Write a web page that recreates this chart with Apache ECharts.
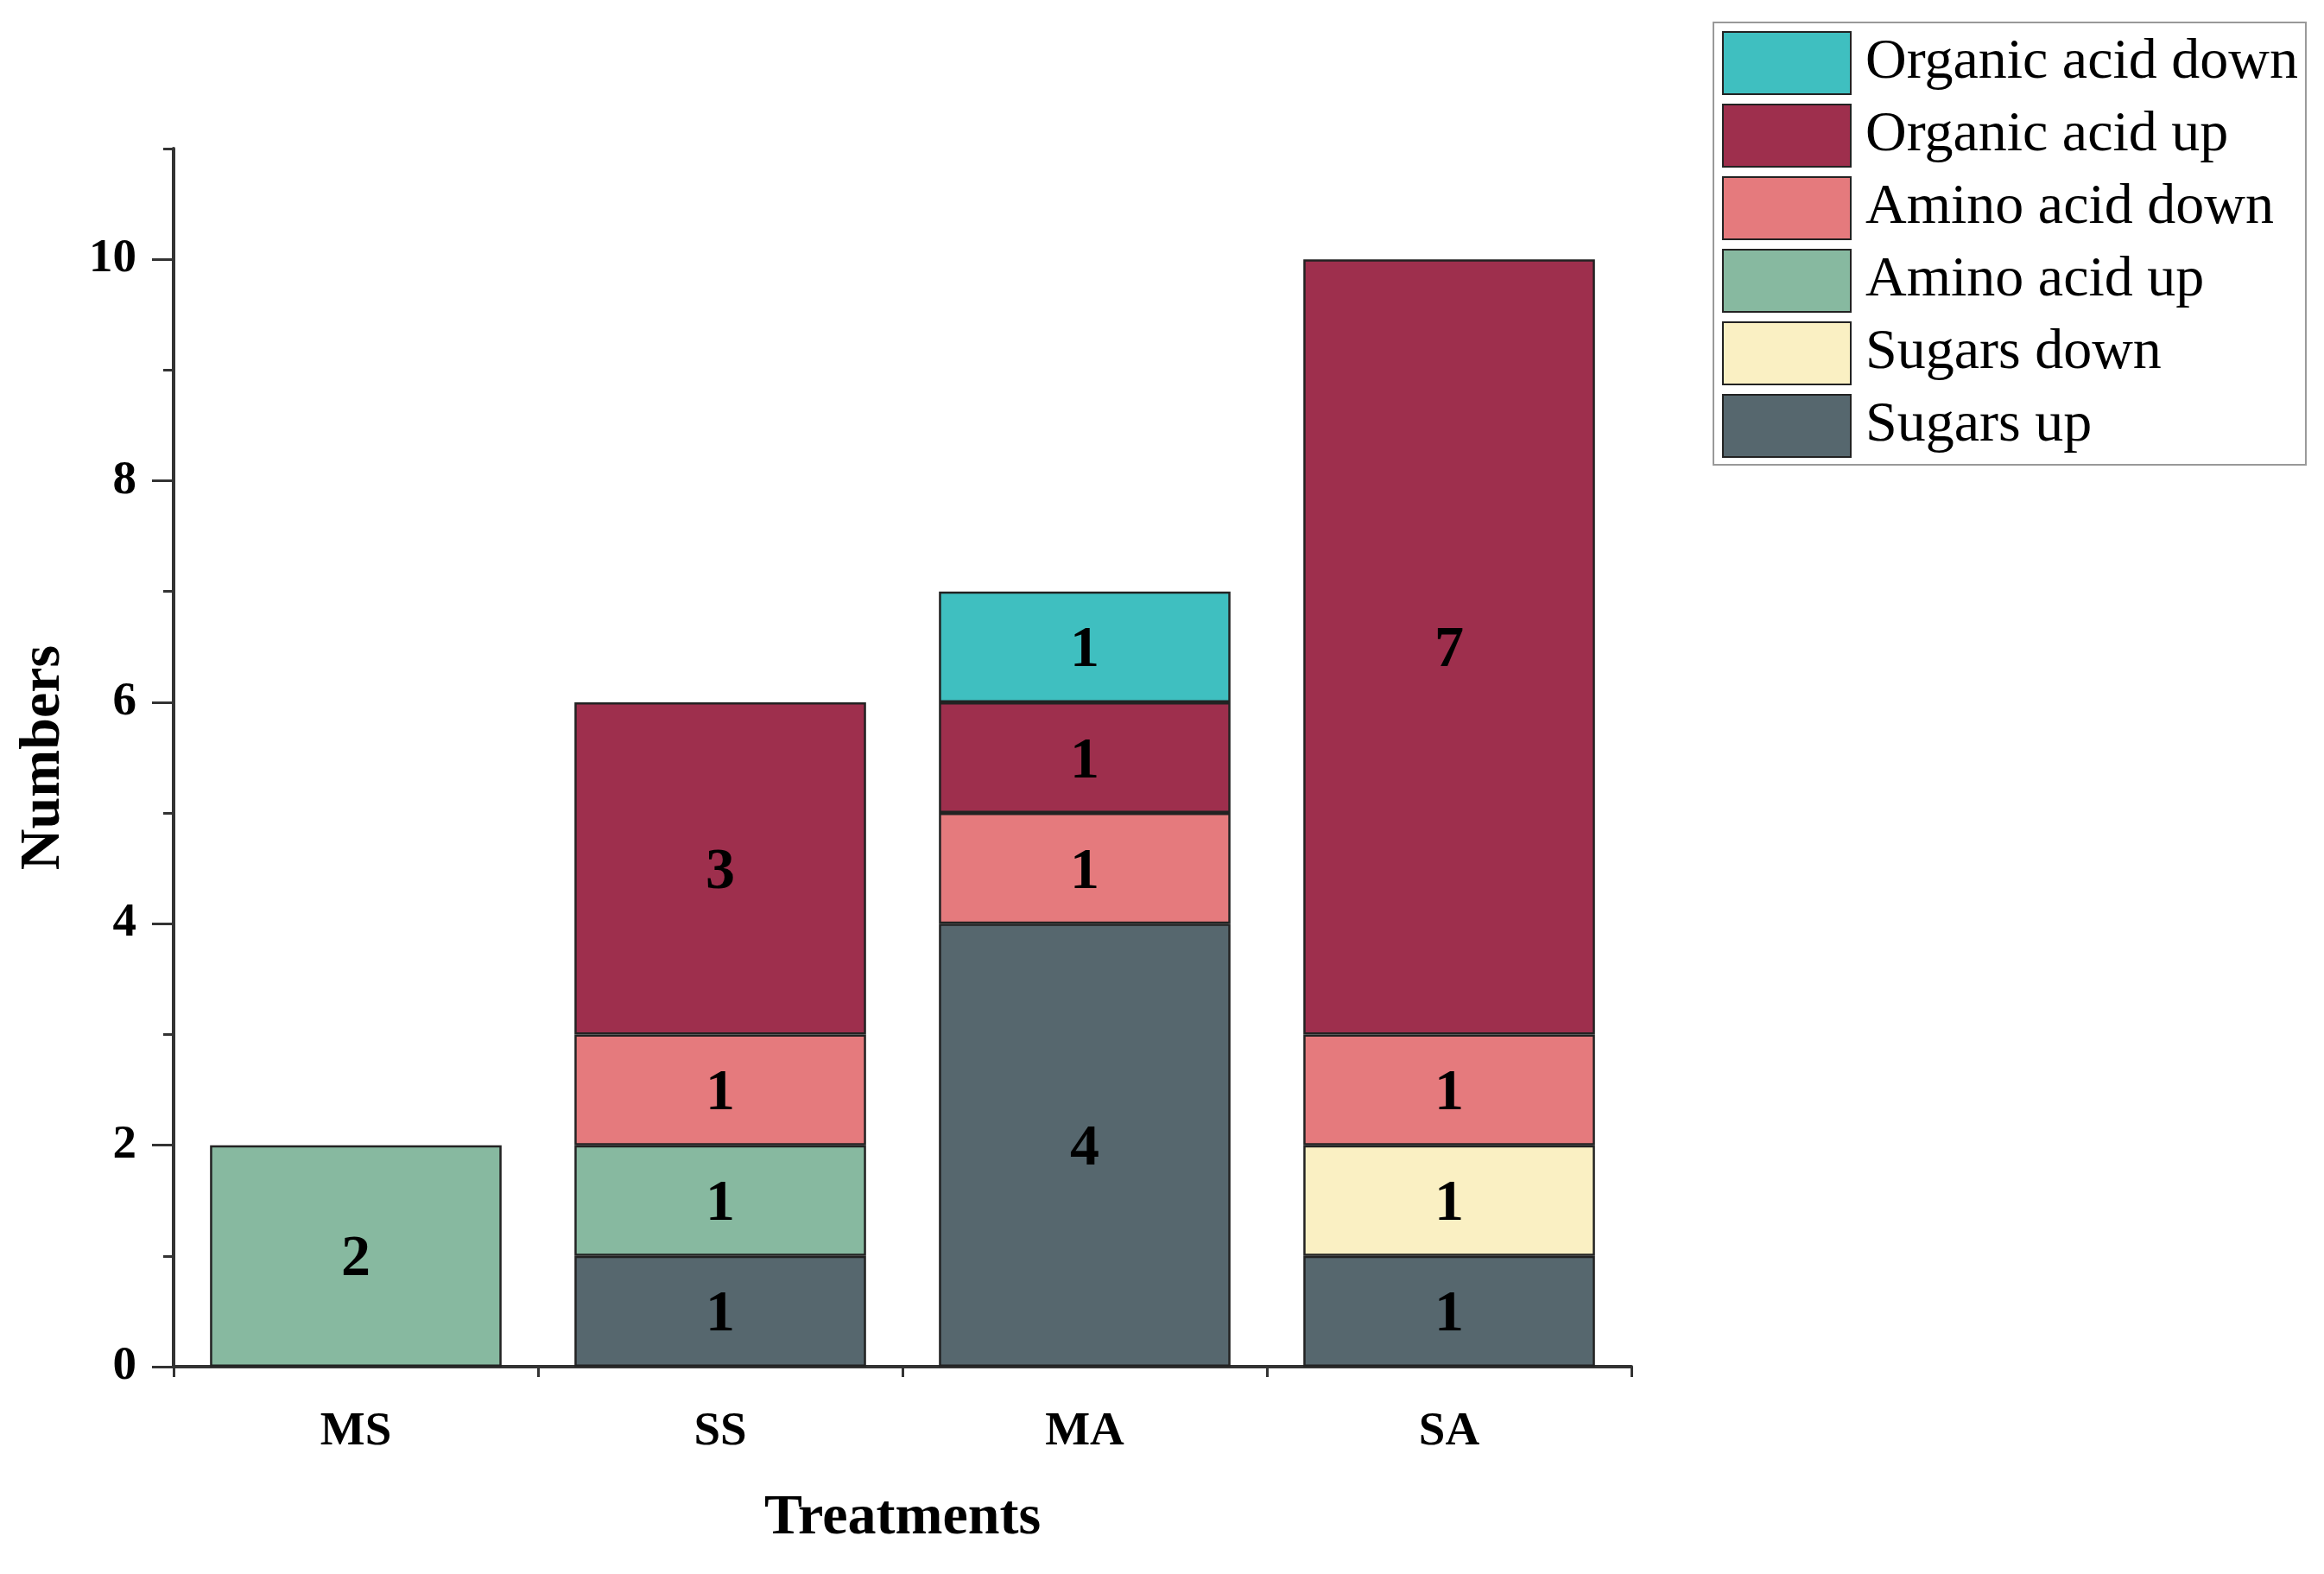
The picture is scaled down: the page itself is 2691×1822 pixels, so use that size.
<!DOCTYPE html>
<html>
<head>
<meta charset="utf-8">
<script src="https://cdn.jsdelivr.net/npm/echarts@6/dist/echarts.min.js"></script>
<style>
html,body{margin:0;padding:0;background:#fff;}
#main{width:2691px;height:1822px;}
</style>
</head>
<body>
<div id="main"></div>
<script>
const categories = ['MS', 'SS', 'MA', 'SA'];
const sugarsUp = [0, 1, 4, 1];
const sugarsDown = [0, 0, 0, 1];
const aminoUp = [2, 1, 0, 0];
const aminoDown = [0, 1, 1, 1];
const organicUp = [0, 3, 1, 7];
const organicDown = [0, 0, 1, 0];
const majorTicks = [0, 2, 4, 6, 8, 10];
const minorTicks = [1, 3, 5, 7, 9, 11];

const seriesDefs = [
  { name: 'Sugars up', data: sugarsUp, color: '#56676E' },
  { name: 'Sugars down', data: sugarsDown, color: '#FAF0C3' },
  { name: 'Amino acid up', data: aminoUp, color: '#87B9A0' },
  { name: 'Amino acid down', data: aminoDown, color: '#E57A7D' },
  { name: 'Organic acid up', data: organicUp, color: '#9E2F4D' },
  { name: 'Organic acid down', data: organicDown, color: '#3FBFC0' }
];

const serif = 'Liberation Serif';
const chart = echarts.init(document.getElementById('main'));
const option = {
  backgroundColor: '#fff',
  animation: false,
  grid: { left: 201, top: 172, right: 802, bottom: 240, containLabel: false },
  legend: {
    orient: 'vertical',
    left: 1984,
    top: 26,
    padding: [10, 9, 8, 10],
    itemWidth: 148,
    itemHeight: 72,
    itemGap: 10,
    borderColor: '#999',
    borderWidth: 2,
    icon: 'rect',
    data: seriesDefs.map(s => s.name).reverse(),
    textStyle: { fontFamily: serif, fontSize: 66, lineHeight: 72, color: '#000', padding: [0, 0, 0, 12] }
  },
  xAxis: [
    {
      type: 'category',
      data: categories,
      position: 'bottom',
      name: 'Treatments',
      nameLocation: 'middle',
      nameGap: 143,
      nameTextStyle: { fontFamily: serif, fontSize: 66, fontWeight: 'bold', color: '#000' },
      axisLine: { lineStyle: { color: '#333', width: 4 } },
      axisTick: { alignWithLabel: true, length: 26, lineStyle: { color: '#333', width: 3 } },
      axisLabel: { fontFamily: serif, fontSize: 55, fontWeight: 'bold', color: '#000', margin: 48 }
    },
    {
      type: 'category',
      data: categories,
      position: 'bottom',
      axisLine: { show: false },
      axisTick: { show: true, length: 12, lineStyle: { color: '#333', width: 3 } },
      axisLabel: { show: false }
    }
  ],
  yAxis: [
    {
      type: 'value',
      min: 0,
      max: 11,
      position: 'left',
      name: 'Numbers',
      nameLocation: 'middle',
      nameGap: 117,
      nameTextStyle: { fontFamily: serif, fontSize: 66, fontWeight: 'bold', color: '#000' },
      splitLine: { show: false },
      axisLine: { show: true, lineStyle: { color: '#333', width: 4 } },
      axisTick: { show: true, length: 25, customValues: majorTicks, lineStyle: { color: '#333', width: 3 } },
      axisLabel: { customValues: majorTicks, fontFamily: serif, fontSize: 55, fontWeight: 'bold', color: '#000', margin: 43 }
    },
    {
      type: 'value',
      min: 0,
      max: 11,
      position: 'left',
      splitLine: { show: false },
      axisLine: { show: false },
      axisTick: { show: true, length: 12, customValues: minorTicks, lineStyle: { color: '#333', width: 3 } },
      axisLabel: { show: false }
    }
  ],
  series: seriesDefs.map(s => ({
    name: s.name,
    type: 'bar',
    stack: 'total',
    xAxisIndex: 0,
    yAxisIndex: 0,
    barCategoryGap: '20%',
    data: s.data.map(v => (v === 0 ? '-' : v)),
    itemStyle: { color: s.color, borderColor: '#222', borderWidth: 2.5 },
    label: {
      show: true,
      position: 'inside',
      offset: [0, 5],
      fontFamily: serif,
      fontSize: 68,
      fontWeight: 'bold',
      color: '#000'
    }
  }))
};
chart.setOption(option);
</script>
</body>
</html>
